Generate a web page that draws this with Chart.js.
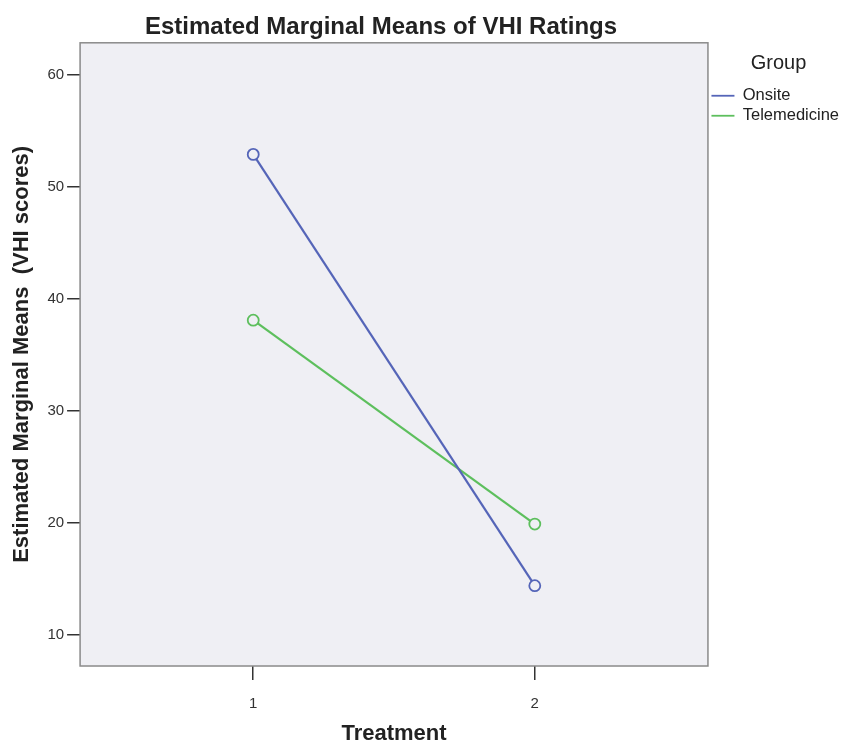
<!DOCTYPE html>
<html>
<head>
<meta charset="utf-8">
<title>Estimated Marginal Means of VHI Ratings</title>
<script src="https://cdn.jsdelivr.net/npm/chart.js@4.4.0/dist/chart.umd.min.js"></script>
<style>
  html, body { margin: 0; padding: 0; background: #ffffff; }
  #wrap { width: 841px; height: 740px; }
</style>
</head>
<body>
<div id="wrap"><canvas id="chart" width="841" height="740"></canvas></div>
<script>
// values
const TREATMENTS = [1, 2];
const ONSITE = [52.9, 14.4];
const TELEMEDICINE = [38.1, 19.9];
const GROUPS = ['Onsite', 'Telemedicine'];
const Y_TICKS = [10, 20, 30, 40, 50, 60];

const BLUE = '#5565b8';
const GREEN = '#5dbf5d';
const PLOT_BG = '#efeff4';
const FONT = "'Liberation Sans', Arial, sans-serif";

function points(values) {
    return TREATMENTS.map((t, i) => ({ x: t, y: values[i] }));
}

// grey panel behind the lines plus its frame
const plotFrame = {
    id: 'plotFrame',
    afterLayout(chart) {
        // the original title sits a little left of the plot centre
        if (chart.titleBlock) {
            chart.titleBlock.left -= 13;
            chart.titleBlock.right -= 13;
        }
    },
    beforeDatasetsDraw(chart) {
        const { ctx, chartArea: a } = chart;
        ctx.save();
        ctx.fillStyle = PLOT_BG;
        ctx.fillRect(a.left, a.top, a.right - a.left, a.bottom - a.top);
        ctx.strokeStyle = '#8a8a8a';
        ctx.lineWidth = 1.5;
        ctx.strokeRect(a.left, a.top, a.right - a.left, a.bottom - a.top);
        ctx.restore();
    }
};

const lineSet = (label, values, color) => ({
    label: label,
    data: points(values),
    borderColor: color,
    backgroundColor: color,
    borderWidth: 2.2,
    pointStyle: 'circle',
    pointRadius: 5.5,
    pointBorderWidth: 1.8,
    pointBackgroundColor: PLOT_BG,
    pointBorderColor: color,
    tension: 0
});

new Chart(document.getElementById('chart'), {
    type: 'line',
    data: {
        datasets: [
            lineSet(GROUPS[0], ONSITE, BLUE),
            lineSet(GROUPS[1], TELEMEDICINE, GREEN)
        ]
    },
    options: {
        responsive: false,
        animation: false,
        layout: { padding: { left: 8, top: 0, right: -8, bottom: 0 } },
        plugins: {
            title: {
                display: true,
                fullSize: false,
                text: 'Estimated Marginal Means of VHI Ratings',
                color: '#222222',
                font: { family: FONT, size: 24, weight: 'bold', lineHeight: 1.2 },
                padding: { top: 13, bottom: 1 }
            },
            legend: {
                position: 'right',
                align: 'start',
                title: {
                    display: true,
                    text: 'Group',
                    color: '#222222',
                    font: { family: FONT, size: 20, lineHeight: 1.2 },
                    padding: { top: 53, bottom: 7 }
                },
                labels: {
                    color: '#222222',
                    font: { family: FONT, size: 16.5 },
                    usePointStyle: true,
                    pointStyle: 'line',
                    pointStyleWidth: 23,
                    padding: 3.5
                }
            },
            tooltip: { enabled: false }
        },
        scales: {
            x: {
                type: 'linear',
                min: 0.385,
                max: 2.615,
                afterBuildTicks: (axis) => { axis.ticks = TREATMENTS.map(v => ({ value: v })); },
                grid: { drawOnChartArea: false, drawTicks: true, tickLength: 14, color: '#333333', lineWidth: 1.5 },
                border: { display: false },
                ticks: {
                    color: '#333333',
                    font: { family: FONT, size: 15 },
                    padding: 15
                },
                title: {
                    display: true,
                    text: 'Treatment',
                    color: '#222222',
                    font: { family: FONT, size: 22, weight: 'bold', lineHeight: 0.545 },
                    padding: { top: 0, bottom: 0 }
                }
            },
            y: {
                type: 'linear',
                min: 7.23,
                max: 62.86,
                afterBuildTicks: (axis) => { axis.ticks = Y_TICKS.map(v => ({ value: v })); },
                grid: { drawOnChartArea: false, drawTicks: true, tickLength: 13, color: '#333333', lineWidth: 1.5 },
                border: { display: false },
                ticks: {
                    color: '#333333',
                    font: { family: FONT, size: 15 },
                    padding: 3
                },
                title: {
                    display: true,
                    text: 'Estimated Marginal Means  (VHI scores)',
                    color: '#222222',
                    font: { family: FONT, size: 22, weight: 'bold', lineHeight: 1.2 },
                    padding: { top: 1, bottom: 9 }
                }
            }
        }
    },
    plugins: [plotFrame]
});
</script>
</body>
</html>
